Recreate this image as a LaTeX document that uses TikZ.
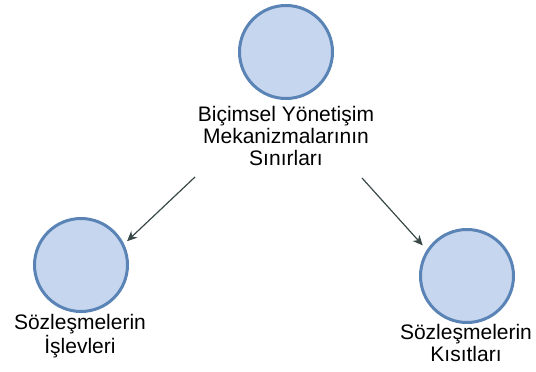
\documentclass[tikz,border=0pt]{standalone}
\usepackage{fontspec}
\setmainfont{Liberation Sans}
\usetikzlibrary{arrows.meta}
\definecolor{cfill}{HTML}{C5D6EE}
\definecolor{cline}{HTML}{5A83B6}
\definecolor{arr}{HTML}{3A4848}
\begin{document}
\begin{tikzpicture}[x=1pt,y=-1pt,
  circ/.style={circle,draw=cline,fill=cfill,line width=3pt,minimum size=93pt,inner sep=0pt},
  lbl/.style={align=center,font=\fontsize{21}{22}\selectfont,inner sep=0pt},
  conn/.style={draw=arr,line width=1.2pt,-{Stealth[length=10pt,width=9pt,inset=3pt]}}]
\useasboundingbox (0,0) rectangle (536,372);
\node[circ] (top) at (286,52) {};
\node[circ] (left) at (81,265) {};
\node[circ] (right) at (467,276) {};
\node[lbl,anchor=north] (toplbl) at (286,106) {Biçimsel Yönetişim\\Mekanizmalarının\\Sınırları};
\node[lbl,anchor=north] (leftlbl) at (80,314) {Sözleşmelerin\\İşlevleri};
\node[lbl,anchor=north] (rightlbl) at (466,324) {Sözleşmelerin\\Kısıtları};
\coordinate (s1) at (195,177);
\coordinate (s2) at (362,178);
\draw[conn,shorten >=4pt] (s1) -- (left.26);
\draw[conn,shorten >=6pt] (s2) -- (right.147);
\end{tikzpicture}
\end{document}
